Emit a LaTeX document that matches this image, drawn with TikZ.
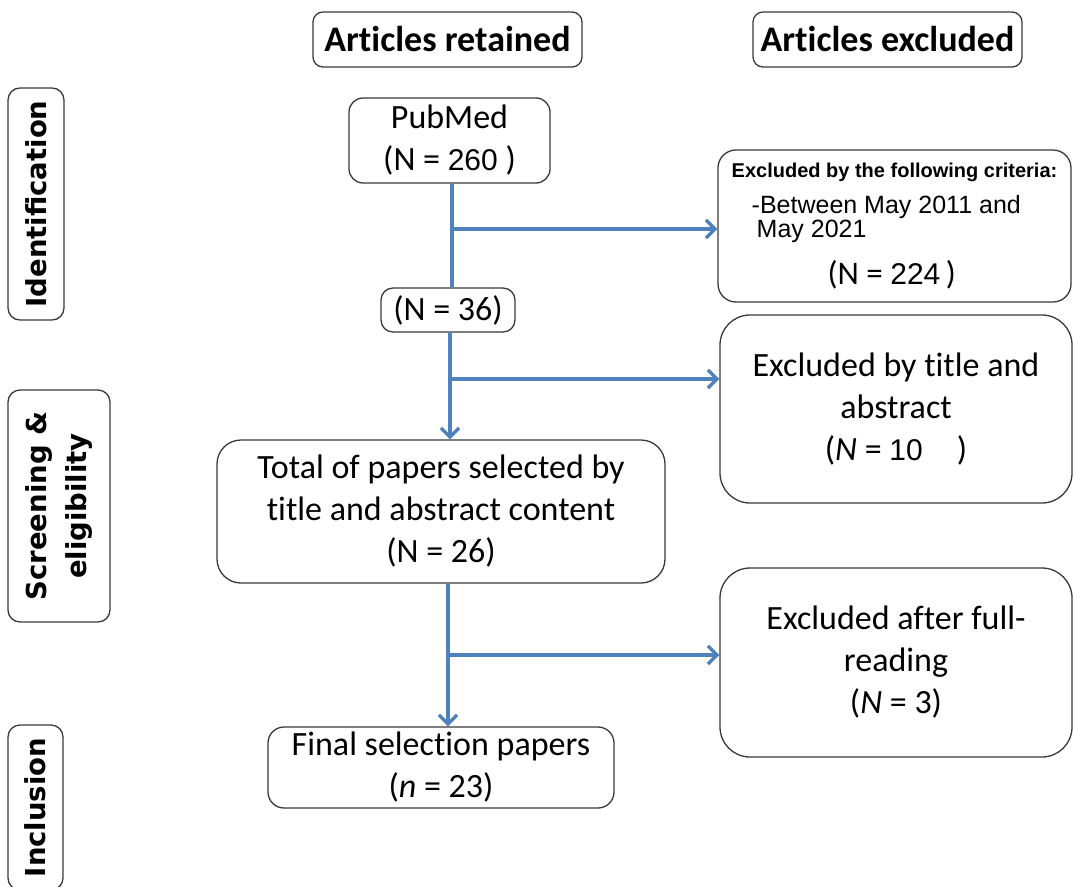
\documentclass[tikz,border=0pt]{standalone}
\usepackage{fontspec}
\setmainfont{Carlito}[Ligatures=CommonOff]
\newfontfamily\libsans{Liberation Sans}
\newfontfamily\djv{DejaVu Sans}
\usetikzlibrary{arrows.meta}
\definecolor{flowblue}{HTML}{4F81BD}
\definecolor{boxgray}{HTML}{3A3A3A}
\newcommand{\arl}[1]{{\libsans\fontsize{30}{42}\selectfont #1}}
\begin{document}
\begin{tikzpicture}[x=1pt,y=-1pt,
  box/.style={draw=boxgray,line width=1.3pt,rounded corners=#1,inner sep=0pt,align=center,fill=white},
  box/.default=14pt,
  hdr/.style={box=10pt,font=\fontsize{36}{40}\selectfont\bfseries},
  side/.style={box=12pt,rotate=90,font=\djv\bfseries\fontsize{27.5}{40}\selectfont},
  body/.style={font=\fontsize{34}{42}\selectfont},
  flow/.style={draw=flowblue,line width=3.4pt},
  flowarr/.style={flow,-{Straight Barb[length=9pt,width=18pt]}}]
\useasboundingbox[fill=white] (0,0) rectangle (1073,886);

% headers
\node[hdr,minimum width=269pt,minimum height=55pt] (hret) at (447.5,39.5) {Articles retained};
\node[hdr,minimum width=269pt,minimum height=55pt] (hexc) at (887.5,39.5) {Articles excluded};

% side labels
\node[side,minimum width=232pt,minimum height=56pt] (sid) at (36,204) {Identification};
\node[side,minimum width=232pt,minimum height=102pt] (sscr) at (59,506) {Screening \&\\eligibility};
\node[side,minimum width=165pt,minimum height=55pt] (sinc) at (35.5,807.5) {Inclusion};

% retained column
\node[box=14pt,body,minimum width=201pt,minimum height=85pt] (pub) at (449.5,140.5) {PubMed\\(N = \arl{260} )};
\node[box=12pt,body,minimum width=134pt,minimum height=44pt] (n36) at (448,310) {(N = 36)};
\node[box=24pt,body,minimum width=448pt,minimum height=143pt] (total) at (441,511.5) {Total of papers selected by\\title and abstract content\\(N = 26)};
\node[box=16pt,body,minimum width=346pt,minimum height=81pt] (final) at (441,767.5) {Final selection papers\\(\textit{n} = 23)};

% excluded column
\node[box=18pt,minimum width=353pt,minimum height=152pt,align=left,font=\libsans\fontsize{25}{24}\selectfont] (crit) at (894.5,226)
  {{\fontsize{20}{24}\selectfont\bfseries Excluded by the following criteria:}\\[12pt]\hspace*{20pt}-Between May 2011 and\\\hspace*{25pt}May 2021\\[16pt]\hspace*{96pt}{\rmfamily\fontsize{33}{24}\selectfont (N = }{\fontsize{30}{24}\selectfont 224}{\rmfamily\fontsize{33}{24}\selectfont\,)}};
\node[box=30pt,body,minimum width=352pt,minimum height=188pt] (title) at (896,409) {Excluded by title and\\abstract\\(\textit{N} = \arl{10}\quad)};
\node[box=30pt,body,minimum width=352pt,minimum height=189pt] (full) at (896,662.5) {Excluded after full-\\reading\\(\textit{N} = 3)};

% connectors
\coordinate (t1) at (452,0);
\coordinate (t2) at (450,0);
\coordinate (t3) at (448,0);
\coordinate (b1) at (452,229);
\coordinate (b2) at (450,379);
\coordinate (b3) at (448,655);
\draw[flow] (pub.south -| t1) -- (n36.north -| t1);
\draw[flowarr] (b1) -- (b1 -| crit.west);
\draw[flowarr] (n36.south -| t2) -- (total.north -| t2);
\draw[flowarr] (b2) -- (b2 -| title.west);
\draw[flowarr] (total.south -| t3) -- (final.north -| t3);
\draw[flowarr] (b3) -- (b3 -| full.west);
\end{tikzpicture}
\end{document}
